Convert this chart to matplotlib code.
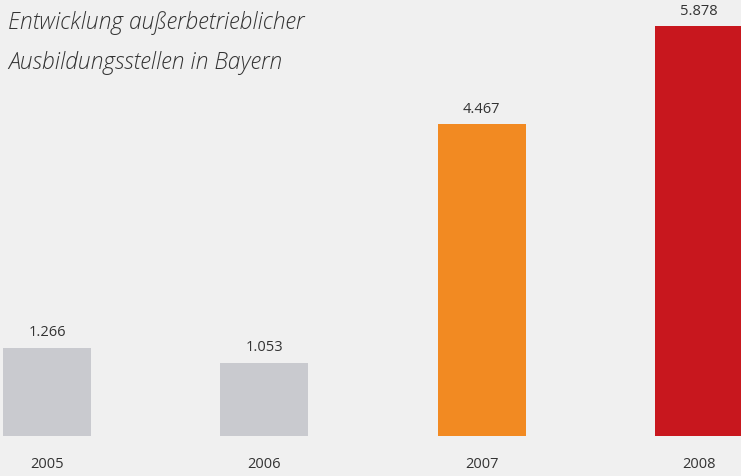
import matplotlib.pyplot as plt

years = ['2005', '2006', '2007', '2008']
werte = [1266, 1053, 4467, 5878]
labels = ['1.266', '1.053', '4.467', '5.878']
farben = ['#c9cacf', '#c9cacf', '#f28a22', '#c8171e']

fig = plt.figure(figsize=(7.41, 4.77), dpi=100)
fig.patch.set_facecolor('#f0f0f0')
ax = fig.add_axes([0, 40 / 477, 1, 437 / 477])
ax.set_facecolor('#f0f0f0')

x = range(len(years))
ax.bar(x, werte, width=0.405, color=farben)
for i, v in enumerate(werte):
    ax.annotate(labels[i], (i, v), xytext=(0, 6), textcoords='offset points',
                ha='center', va='bottom', fontsize=10.5, color='#333333',
                family=['Open Sans', 'DejaVu Sans'])
    ax.annotate(years[i], (i, 0), xytext=(0, -20), textcoords='offset points',
                ha='center', va='center', fontsize=10.5, color='#333333',
                family=['Open Sans', 'DejaVu Sans'])

ax.set_xlim(-0.2163, 3.1933)
ax.set_ylim(0, 6265)
ax.axis('off')

fig.text(8 / 741, 1 - 23 / 477, 'Entwicklung außerbetrieblicher', fontsize=16.5,
         style='italic', weight='light', color='#333333', va='center',
         family=['Open Sans', 'DejaVu Sans'])
fig.text(8 / 741, 1 - 63 / 477, 'Ausbildungsstellen in Bayern', fontsize=16.5,
         style='italic', weight='light', color='#333333', va='center',
         family=['Open Sans', 'DejaVu Sans'])

fig.savefig('out.png', dpi=100, facecolor=fig.get_facecolor())
